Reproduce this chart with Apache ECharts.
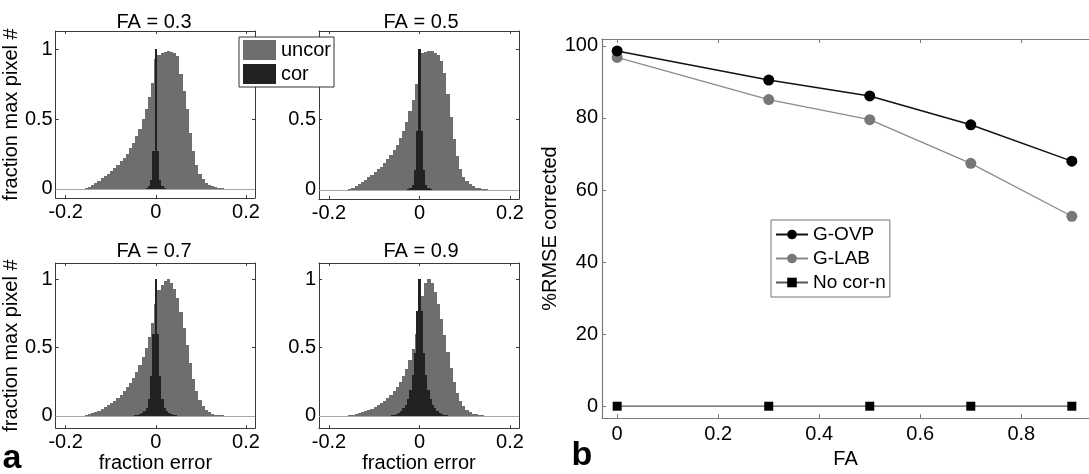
<!DOCTYPE html>
<html>
<head>
<meta charset="utf-8">
<script src="https://cdn.jsdelivr.net/npm/echarts@6/dist/echarts.min.js"></script>
<style>
html,body{margin:0;padding:0;background:#fff;}
#c{width:1089px;height:474px;}
</style>
</head>
<body>
<div id="c"></div>
<script>
// ---------------- DATA ----------------
// Histogram bins: uncor centers = k*BIN_U (k = -24..24), cor centers = k*BIN_C (k = -12..12)
const BIN_U = 0.007;
const BIN_C = 0.005;
const U_K0 = -24;
const C_K0 = -12;
const PANEL_TITLES = ['FA = 0.3', 'FA = 0.5', 'FA = 0.7', 'FA = 0.9'];

const UNCOR_03 = [0,0,0.005,0.015,0.03,0.045,0.06,0.075,0.09,0.11,0.13,0.15,0.17,0.2,0.22,0.25,0.29,0.33,0.38,0.43,0.5,0.57,0.66,0.76,
  0.93,
  0.96,0.97,0.98,0.99,0.98,0.97,0.95,0.82,0.7,0.57,0.4,0.27,0.17,0.11,0.07,0.045,0.03,0.02,0.012,0.008,0.004,0.002,0,0];
const UNCOR_05 = [0,0,0.005,0.012,0.025,0.04,0.055,0.07,0.09,0.105,0.125,0.145,0.165,0.19,0.22,0.25,0.28,0.32,0.37,0.42,0.48,0.56,0.64,0.75,
  0.9,
  0.97,0.98,0.99,0.985,0.975,0.96,0.92,0.83,0.68,0.52,0.36,0.24,0.15,0.095,0.06,0.04,0.025,0.016,0.01,0.006,0.003,0.001,0,0];
const UNCOR_07 = [0,0,0.004,0.01,0.018,0.028,0.038,0.05,0.062,0.077,0.093,0.11,0.13,0.155,0.18,0.21,0.24,0.28,0.32,0.37,0.43,0.5,0.58,0.68,
  0.82,
  0.92,0.96,0.99,1.0,0.97,0.93,0.86,0.76,0.64,0.52,0.39,0.27,0.18,0.115,0.07,0.042,0.025,0.015,0.009,0.005,0.003,0.001,0,0];
const UNCOR_09 = [0,0.002,0.004,0.008,0.012,0.018,0.025,0.033,0.042,0.052,0.063,0.077,0.092,0.11,0.13,0.155,0.18,0.21,0.245,0.29,0.34,0.41,0.49,0.6,
  0.74,
  0.88,0.97,1.0,0.97,0.91,0.82,0.71,0.59,0.47,0.35,0.25,0.17,0.11,0.07,0.045,0.028,0.017,0.01,0.006,0.003,0.001,0,0,0];

const COR_03 = [0,0,0,0,0,0,0,0,0.005,0.02,0.065,0.27,1.0,0.27,0.065,0.02,0.005,0,0,0,0,0,0,0,0];
const COR_05 = [0,0,0,0,0,0,0,0.005,0.015,0.035,0.14,0.42,1.0,0.42,0.14,0.035,0.015,0.005,0,0,0,0,0,0,0];
const COR_07 = [0,0,0,0.003,0.006,0.012,0.02,0.035,0.06,0.12,0.29,0.6,1.0,0.6,0.29,0.12,0.06,0.035,0.02,0.012,0.006,0.003,0,0,0];
const COR_09 = [0.004,0.008,0.014,0.022,0.035,0.055,0.08,0.12,0.19,0.3,0.46,0.77,1.0,0.77,0.46,0.3,0.19,0.12,0.08,0.055,0.035,0.022,0.014,0.008,0.004];

const HIST_X_TICKS = [-0.2, 0, 0.2];
const HIST_Y_TICKS = [0, 0.5, 1];

// Right panel
const FA = [0, 0.3, 0.5, 0.7, 0.9];
const G_OVP = [98.6, 90.5, 86.1, 78.1, 68.0];
const G_LAB = [96.8, 85.1, 79.5, 67.4, 52.7];
const NO_COR = [0, 0, 0, 0, 0];
const FA_TICKS = [0, 0.2, 0.4, 0.6, 0.8];
const RMSE_TICKS = [0, 20, 40, 60, 80, 100];

// ---------------- CHART ----------------
const FONT = '"Liberation Sans", Arial, sans-serif';
const UNCOR_COLOR = '#6e6e6e';
const COR_COLOR = '#222222';
const AX_COLOR = '#3a3a3a';
const LFS = 20; // left font size
const RFS = 20; // right font size

const uncorSets = [UNCOR_03, UNCOR_05, UNCOR_07, UNCOR_09];
const corSets = [COR_03, COR_05, COR_07, COR_09];

const grids = [
  {left: 53, top: 31, width: 202, height: 167},
  {left: 319, top: 31, width: 200, height: 168},
  {left: 54, top: 263, width: 201, height: 168},
  {left: 319, top: 263, width: 200, height: 169},
  {left: 602, top: 39, width: 487, height: 386}
];
const yRanges = [[-0.065, 1.13], [-0.065, 1.13], [-0.09, 1.12], [-0.09, 1.12]];

function toPairs(arr, k0, w) {
  return arr.map((v, i) => [(k0 + i) * w, v]);
}

function histSeries(name, data, w, color, xi, yi, z) {
  return {
    type: 'custom', name: name, xAxisIndex: xi, yAxisIndex: yi, z: z,
    clip: true,
    itemStyle: {color: color},
    data: data,
    renderItem: function (params, api) {
      const c = api.value(0), v = api.value(1);
      if (!v) return null;
      const p0 = api.coord([c - w / 2, v]);
      const p1 = api.coord([c + w / 2, 0]);
      const x0 = Math.round(p0[0]), x1 = Math.round(p1[0]);
      const y0 = Math.round(p0[1]), y1 = Math.round(p1[1]);
      return {
        type: 'rect',
        shape: {x: x0, y: y0, width: Math.max(1, x1 - x0), height: y1 - y0},
        style: {fill: color}
      };
    }
  };
}

const xAxes = [], yAxes = [], series = [];
const tickStyle = {show: true, inside: true, length: 3, lineStyle: {color: AX_COLOR}};
for (let i = 0; i < 4; i++) {
  const bottomRow = i >= 2;
  xAxes.push({
    type: 'value', gridIndex: i, position: 'bottom', min: -0.222, max: 0.22,
    axisLine: {show: true, onZero: false, lineStyle: {color: AX_COLOR, width: 1}},
    axisTick: Object.assign({customValues: HIST_X_TICKS}, tickStyle),
    axisLabel: {customValues: HIST_X_TICKS, color: '#000', fontSize: LFS, fontFamily: FONT, margin: 4},
    splitLine: {show: false},
    name: bottomRow ? 'fraction error' : '', nameLocation: 'middle', nameGap: 22,
    nameTextStyle: {color: '#000', fontSize: LFS, fontFamily: FONT}
  });
  xAxes.push({
    type: 'value', gridIndex: i, position: 'top', min: -0.222, max: 0.22,
    axisLine: {show: true, onZero: false, lineStyle: {color: AX_COLOR, width: 1}},
    axisTick: Object.assign({customValues: HIST_X_TICKS}, tickStyle),
    axisLabel: {show: false}, splitLine: {show: false}
  });
  yAxes.push({
    type: 'value', gridIndex: i, position: 'left', min: yRanges[i][0], max: yRanges[i][1],
    axisLine: {show: true, onZero: false, lineStyle: {color: AX_COLOR, width: 1}},
    axisTick: Object.assign({customValues: HIST_Y_TICKS}, tickStyle),
    axisLabel: {customValues: HIST_Y_TICKS, color: '#000', fontSize: LFS, fontFamily: FONT, margin: 3},
    splitLine: {show: false},
    name: (i % 2 === 0) ? 'fraction max pixel #' : '', nameLocation: 'middle', nameGap: 28,
    nameTextStyle: {color: '#000', fontSize: LFS, fontFamily: FONT}
  });
  yAxes.push({
    type: 'value', gridIndex: i, position: 'right', min: yRanges[i][0], max: yRanges[i][1],
    axisLine: {show: true, onZero: false, lineStyle: {color: AX_COLOR, width: 1}},
    axisTick: Object.assign({customValues: HIST_Y_TICKS}, tickStyle),
    axisLabel: {show: false}, splitLine: {show: false}
  });
  const xi = i * 2, yi = i * 2;
  const s1 = histSeries('uncor', toPairs(uncorSets[i], U_K0, BIN_U), BIN_U, UNCOR_COLOR, xi, yi, 2);
  series.push(s1);
  const s2 = histSeries('cor', toPairs(corSets[i], C_K0, BIN_C), BIN_C, COR_COLOR, xi, yi, 3);
  s2.markLine = {
    silent: true, symbol: 'none', label: {show: false},
    lineStyle: {color: '#a8a8a8', width: 1.2, type: 'solid'},
    data: [{yAxis: 0}]
  };
  series.push(s2);
}

// Right panel axes
const R_AX = '#7a7a7a';
const rTick = {show: true, inside: true, length: 4, lineStyle: {color: R_AX}};
xAxes.push({
  type: 'value', gridIndex: 4, position: 'bottom', min: -0.03, max: 0.934,
  axisLine: {show: true, onZero: false, lineStyle: {color: R_AX, width: 1.2}},
  axisTick: Object.assign({customValues: FA_TICKS}, rTick),
  axisLabel: {customValues: FA_TICKS, color: '#000', fontSize: RFS, fontFamily: FONT, margin: 6},
  splitLine: {show: false},
  name: 'FA', nameLocation: 'middle', nameGap: 26,
  nameTextStyle: {color: '#000', fontSize: RFS, fontFamily: FONT}
});
xAxes.push({
  type: 'value', gridIndex: 4, position: 'top', min: -0.03, max: 0.934,
  axisLine: {show: true, onZero: false, lineStyle: {color: R_AX, width: 1.2}},
  axisTick: Object.assign({customValues: FA_TICKS}, rTick),
  axisLabel: {show: false}, splitLine: {show: false}
});
yAxes.push({
  type: 'value', gridIndex: 4, position: 'left', min: -3.3, max: 101.9,
  axisLine: {show: true, onZero: false, lineStyle: {color: R_AX, width: 1.2}},
  axisTick: Object.assign({customValues: RMSE_TICKS}, rTick),
  axisLabel: {customValues: RMSE_TICKS, color: '#000', fontSize: RFS, fontFamily: FONT, margin: 4},
  splitLine: {show: false},
  name: '%RMSE corrected', nameLocation: 'middle', nameGap: 34,
  nameTextStyle: {color: '#000', fontSize: RFS, fontFamily: FONT}
});

function linePairs(vals) { return FA.map((x, i) => [x, vals[i]]); }
series.push({
  type: 'line', name: 'G-OVP', xAxisIndex: 8, yAxisIndex: 8, data: linePairs(G_OVP),
  symbol: 'circle', symbolSize: 11, z: 5, clip: false,
  lineStyle: {color: '#111', width: 1.5}, itemStyle: {color: '#000'}
});
series.push({
  type: 'line', name: 'G-LAB', xAxisIndex: 8, yAxisIndex: 8, data: linePairs(G_LAB),
  symbol: 'circle', symbolSize: 11, z: 4, clip: false,
  lineStyle: {color: '#8a8a8a', width: 1.3}, itemStyle: {color: '#777'}
});
series.push({
  type: 'line', name: 'No cor-n', xAxisIndex: 8, yAxisIndex: 8, data: linePairs(NO_COR),
  symbol: 'rect', symbolSize: 9, z: 4, clip: false,
  lineStyle: {color: '#555', width: 1.2}, itemStyle: {color: '#000'}
});

function txt(x, y, text, size, weight) {
  return {
    type: 'text', x: x, y: y, z: 10,
    style: {text: text, fill: '#000', font: (weight || 'normal') + ' ' + size + 'px ' + FONT,
      textAlign: 'center', textVerticalAlign: 'middle'}
  };
}

const chart = echarts.init(document.getElementById('c'), null, {renderer: 'canvas'});
chart.setOption({
  animation: false,
  backgroundColor: '#fff',
  grid: grids.map(g => Object.assign({containLabel: false}, g)),
  xAxis: xAxes,
  yAxis: yAxes,
  legend: [
    {
      data: ['uncor', 'cor'], orient: 'vertical', left: 239, top: 37,
      icon: 'rect', itemWidth: 33, itemHeight: 20, itemGap: 4,
      padding: [3, 3, 3, 4], borderColor: '#333', borderWidth: 1, backgroundColor: '#fff',
      textStyle: {color: '#000', fontSize: LFS, fontFamily: FONT},
      selectedMode: false, z: 10
    },
    {
      data: ['G-OVP', 'G-LAB', 'No cor-n'], orient: 'vertical', left: 771, top: 220,
      itemWidth: 32, itemHeight: 12, itemGap: 5,
      padding: [5, 4, 5, 4], borderColor: '#777', borderWidth: 1, backgroundColor: '#fff',
      textStyle: {color: '#000', fontSize: 19, fontFamily: FONT},
      selectedMode: false, z: 10
    }
  ],
  graphic: [
    txt(154, 22, PANEL_TITLES[0], LFS),
    txt(421, 22, PANEL_TITLES[1], LFS),
    txt(154, 251, PANEL_TITLES[2], LFS),
    txt(421, 251, PANEL_TITLES[3], LFS),
    txt(12, 459, 'a', 34, 'bold'),
    txt(582, 456, 'b', 34, 'bold')
  ],
  series: series
});
</script>
</body>
</html>
